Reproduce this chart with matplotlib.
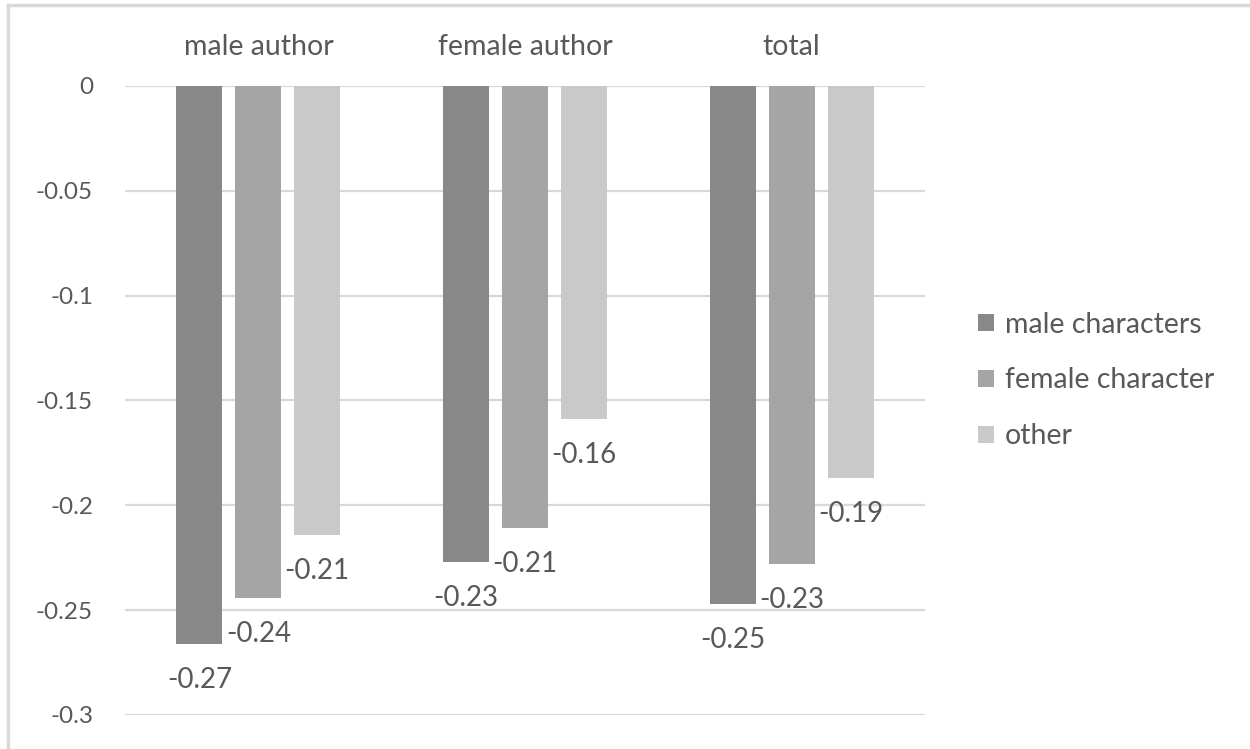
import matplotlib
matplotlib.use("Agg")
from matplotlib import pyplot as plt
from matplotlib.lines import Line2D
import numpy as np

groups = ["male author", "female author", "total"]
series = ["male characters", "female character", "other"]
male_chars = [-0.266, -0.227, -0.247]
female_chars = [-0.244, -0.211, -0.228]
other = [-0.214, -0.159, -0.187]
yticks = [0, -0.05, -0.1, -0.15, -0.2, -0.25, -0.3]
ytick_labels = ["0", "-0.05", "-0.1", "-0.15", "-0.2", "-0.25", "-0.3"]

colors = ["#888888", "#a5a5a5", "#c9c9c9"]
txt = "#595959"
plt.rcParams["font.family"] = ["Lato", "DejaVu Sans"]

fig = plt.figure(figsize=(12.5, 7.49), dpi=100)
ax = fig.add_axes([0.1, 0.0454, 0.64, 0.8398])

x = np.arange(len(groups))
width = 0.1725
step = 0.221
for i, (name, vals) in enumerate(zip(series, [male_chars, female_chars, other])):
    pos = x + (i - 1) * step
    ax.bar(pos, vals, width, color=colors[i], label=name, zorder=3)
    for px, v in zip(pos, vals):
        ax.annotate(f"{v:.2f}", (px, v), xytext=(0, -36), textcoords="offset pixels",
                    ha="center", va="center", fontsize=20, color=txt, zorder=4)

ax.set_xlim(-0.5, 2.5)
ax.set_ylim(-0.3, 0)
ax.set_yticks(yticks)
ax.set_yticklabels(ytick_labels)
ax.yaxis.grid(True, color="#d9d9d9", linewidth=1.6, zorder=0)
ax.set_axisbelow(True)
for s in ax.spines.values():
    s.set_visible(False)
ax.tick_params(axis="y", length=0, pad=23, labelsize=17.5, labelcolor=txt)

ax.xaxis.tick_top()
ax.set_xticks(x)
ax.set_xticklabels(groups)
ax.tick_params(axis="x", length=0, pad=19, labelsize=20.5, labelcolor=txt)

leg = fig.legend(loc="center left", bbox_to_anchor=(978 / 1250, 0.492), frameon=False,
                 fontsize=20.5, handlelength=0.55, handleheight=0.55, handletextpad=0.4,
                 labelspacing=1.05, borderpad=0, borderaxespad=0)
for t in leg.get_texts():
    t.set_color(txt)

# light frame round the chart (top and left edges visible)
fig.add_artist(Line2D([8 / 1250, 1], [1 - 5 / 749, 1 - 5 / 749], color="#d9d9d9", lw=2.5))
fig.add_artist(Line2D([8 / 1250, 8 / 1250], [0, 1 - 5 / 749], color="#d9d9d9", lw=2.5))

fig.savefig("out.png", dpi=100)
